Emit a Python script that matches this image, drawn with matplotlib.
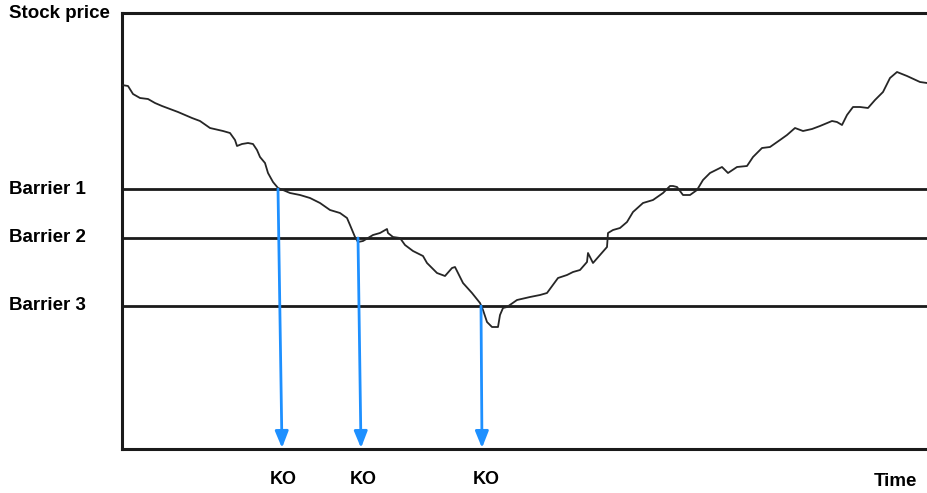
import matplotlib
matplotlib.use("Agg")
import matplotlib.pyplot as plt

# stock price path (arbitrary units)
time = [0, 6, 11, 18, 26, 33, 40, 48, 56, 63,
        70, 78, 88, 101, 108, 113, 115, 120, 126, 131,
        135, 138, 143, 146, 151, 156, 161, 168, 178, 188,
        198, 208, 218, 225, 228, 233, 236, 241, 251, 258,
        265, 266, 271, 278, 283, 291, 301, 305, 315, 323,
        330, 333, 336, 341, 350, 358, 361, 365, 370, 376,
        378, 381, 385, 395, 408, 418, 425, 436, 445, 451,
        458, 465, 466, 471, 478, 485, 486, 491, 498, 505,
        511, 521, 531, 541, 548, 551, 555, 561, 568, 575,
        581, 588, 600, 606, 615, 625, 631, 640, 648, 658,
        665, 673, 681, 690, 698, 710, 715, 720, 725, 731,
        738, 746, 753, 761, 768, 775, 785, 798, 805]
price = [364, 363, 355, 351, 350, 346, 343, 340, 337, 334,
         331, 328, 321, 318, 316, 309, 303, 305, 306, 305,
         299, 292, 286, 276, 267, 261, 259, 256, 254, 251,
         246, 239, 236, 231, 224, 212, 207, 208, 214, 216,
         220, 216, 212, 211, 204, 198, 193, 186, 176, 173,
         181, 182, 176, 166, 156, 146, 139, 127, 122, 122,
         134, 141, 142, 149, 152, 154, 156, 171, 174, 177,
         179, 187, 196, 186, 194, 202, 216, 219, 221, 227,
         237, 246, 249, 256, 263, 263, 262, 254, 254, 259,
         269, 276, 282, 276, 282, 283, 292, 301, 302, 309,
         314, 321, 318, 320, 323, 328, 327, 324, 334, 342,
         342, 341, 349, 357, 371, 377, 373, 367, 366]

barriers = [260, 211, 143]
barrier_labels = ["Barrier 1", "Barrier 2", "Barrier 3"]
ko_start = [156, 236, 359]
ko_end = [160, 239, 360]
ko_label_pos = [161, 241, 364]

fig = plt.figure(figsize=(9.27, 4.93), dpi=100)
ax = fig.add_axes([122 / 927, 44 / 493, 805 / 927, 436 / 493])
ax.set_xlim(0, 805)
ax.set_ylim(0, 436)

for b in barriers:
    ax.axhline(b, color="#1a1a1a", lw=2, zorder=2)

ax.plot(time, price, color="#262626", lw=1.3, zorder=3)

for t0, t1, b, tl in zip(ko_start, ko_end, barriers, ko_label_pos):
    ax.annotate("", xy=(t1, 1), xytext=(t0, b),
                arrowprops=dict(arrowstyle="-|>,head_width=0.4,head_length=1.0",
                                color="#1e90ff", lw=2, shrinkA=0, shrinkB=0),
                zorder=4)
    ax.text(tl, -30, "KO", ha="center", va="center", fontsize=13,
            fontweight="bold", family="Liberation Sans", clip_on=False)

for spine in ["top", "left", "bottom"]:
    ax.spines[spine].set_linewidth(2.2)
    ax.spines[spine].set_color("#1a1a1a")
ax.spines["right"].set_visible(False)
ax.set_xticks([])
ax.set_yticks([])

font = dict(fontsize=13.5, fontweight="bold", family="Liberation Sans")
fig.text(9 / 927, 1 - 13 / 493, "Stock price", ha="left", va="center", **font)
for b, lab in zip(barriers, barrier_labels):
    ax.text(-113, b, lab, ha="left", va="center", clip_on=False, **font)
fig.text(895 / 927, 1 - 482 / 493, "Time", ha="center", va="center", **font)

fig.savefig("out.png", dpi=100)
